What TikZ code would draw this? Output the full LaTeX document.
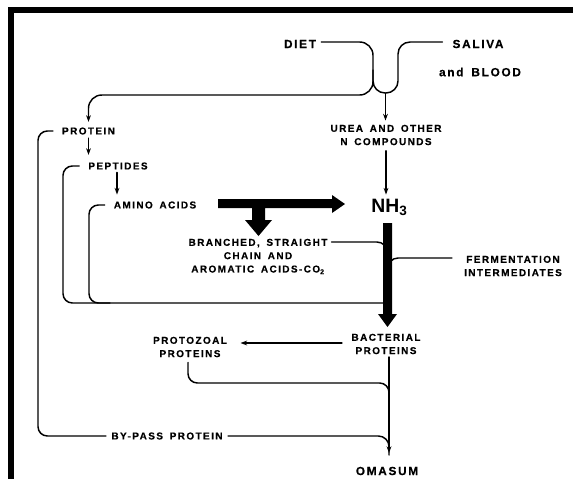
\documentclass[tikz,border=0pt]{standalone}
\usepackage{fontspec}
\setmainfont{Liberation Sans}
\newfontfamily\labfont[LetterSpace=14,FakeBold=0.35,WordSpace=1.6]{Liberation Sans}
\newfontfamily\nhfont{Liberation Sans}
\usetikzlibrary{arrows.meta}
\begin{document}
\begin{tikzpicture}[x=0.75pt,y=-0.75pt,
  lbl/.style={font=\labfont\bfseries\fontsize{7.5}{10}\selectfont, inner sep=0pt, align=center},
  big/.style={font=\labfont\bfseries\fontsize{8.9}{11}\selectfont, inner sep=0pt, align=center},
  ln/.style={line width=1.1pt, line cap=round},
  arr/.style={ln,-{Stealth[length=5pt,width=3.6pt]}},
  fat/.style={fill=black, draw=none}]
\useasboundingbox (0,0) rectangle (573,479);
% frame
\fill (8,7) rectangle (573,13);
\fill (8,7) rectangle (14,479);
% texts
\node[big] (diet) at (300,44) {DIET};
\node[big] (saliva) at (478,44) {SALIVA};
\node[big] (blood) at (480,72) {and BLOOD};
\node[lbl] (urea) at (386,135) {UREA AND OTHER\\N COMPOUNDS};
\node[lbl] (protein) at (88.5,131) {PROTEIN};
\node[lbl] (peptides) at (118,166) {PEPTIDES};
\node[lbl] (amino) at (155,205) {AMINO ACIDS};
\node[font=\nhfont\bfseries\fontsize{14.5}{16}\selectfont, inner sep=0pt] (nh3) at (389.5,207) {NH\textsubscript{3}};
\node[lbl] (branched) at (258,256.5) {BRANCHED, STRAIGHT\\CHAIN AND\\AROMATIC ACIDS-CO\textsubscript{2}};
\node[lbl] (ferment) at (513,266) {FERMENTATION\\INTERMEDIATES};
\node[lbl] (bacterial) at (386,344) {BACTERIAL\\PROTEINS};
\node[lbl] (protozoal) at (190,347) {PROTOZOAL\\PROTEINS};
\node[lbl] (bypass) at (167,436) {BY-PASS PROTEIN};
\node[big] (omasum) at (387,471) {OMASUM};
% junctions
\coordinate (ul) at (373,93);
\coordinate (ur) at (398,93);
\coordinate (um) at (385.5,93);
\coordinate (bar) at (387.5,303);
\coordinate (jo) at (389,383);
% diet -> protein
\draw[arr,rounded corners=10pt,shorten >=4pt] (diet.east) ++(5,-2) -| (373,95) -| (protein.north);
% saliva -> U
\draw[ln,rounded corners=9pt] (saliva.west) ++(-10,-2) -| (ur) -- (ul) -- (373,70);
\draw[arr,shorten >=3pt] (um) -- (urea.north -| um);
\draw[arr,shorten <=4pt,shorten >=3pt] (urea.south) -- (urea.south |- nh3.north);
% protein chain
\draw[arr,shorten <=2.5pt,shorten >=5.5pt] (protein.south) -- (protein.south |- peptides.north);
\draw[arr,shorten <=2pt,shorten >=5pt] (peptides.south -| 117,0) -- (117,0 |- amino.north);
% brackets
\draw[ln,rounded corners=7pt] (protein.west) ++(-9,0) -| (38,436) -- ([xshift=-4pt]bypass.west);
\draw[ln,rounded corners=7pt] (peptides.west) ++(-9,0) -| (63,303) -- (bar);
\draw[ln,rounded corners=7pt] (amino.west) ++(-9,0) -| (89,303) -- (110,303);
% thick arrows
\fill[fat] (218,199) -- (332,199) -- (332,195) -- (345,204) -- (332,213) -- (332,208)
  -- (265,208) -- (265,220) -- (272,220) -- (258.5,236) -- (245,220) -- (252,220) -- (252,208)
  -- (218,208) -- cycle;
\fill[fat] (383,223) -- (392,223) -- (392,314) -- (397,314) -- (387.5,327) -- (378,314) -- (383,314) -- cycle;
% side inputs to bar
\draw[ln,rounded corners=8pt] ([xshift=3pt]branched.north east |- 0,242) -| (387.5,262);
\draw[ln,rounded corners=8pt] ([xshift=-9pt]ferment.west |- 0,258) -| (387.5,275);
% bacterial
\draw[arr,shorten <=7pt,shorten >=10pt] (bacterial.west |- 0,343) -- (protozoal.east |- 0,343);
\draw[arr] (389,357) -- (389,453);
\draw[ln,rounded corners=7pt] (protozoal.south) ++(-2,5) |- (jo) -- (389,400);
\draw[ln,rounded corners=8pt] ([xshift=4pt]bypass.east) -| (389,455);
\end{tikzpicture}
\end{document}
